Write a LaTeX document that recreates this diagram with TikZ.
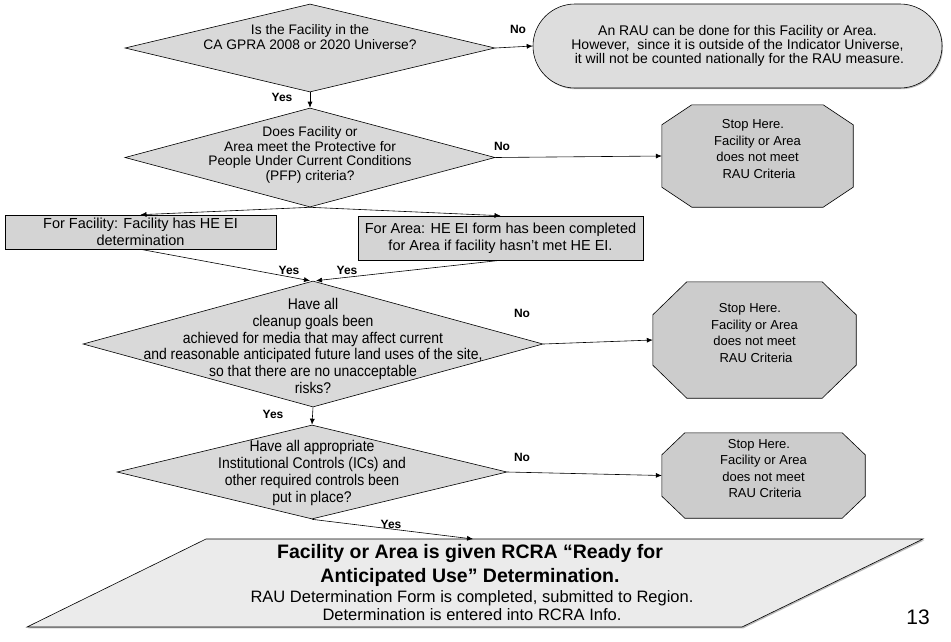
\documentclass[tikz,border=0pt]{standalone}
\usepackage{fontspec}
\setmainfont{Liberation Sans}
\newfontfamily\narrowfont{Liberation Sans}[FakeStretch=0.9]
\usetikzlibrary{shapes.geometric,shapes.misc,arrows.meta,shadows}
\definecolor{diafill}{HTML}{D9D9D9}
\definecolor{octfill}{HTML}{CCCCCC}
\definecolor{stadfill}{HTML}{DDDDDD}
\definecolor{rectfill}{HTML}{D4D4D4}
\definecolor{parfill}{HTML}{EBEBEB}
\definecolor{shadowgray}{HTML}{8C8C8C}
\newcommand{\octpath}[3]{% node name, x cut, y cut
  \filldraw[base, fill=octfill]
    ([xshift=#2pt]#1.north west) -- ([xshift=-#2pt]#1.north east)
    -- ([yshift=-#3pt]#1.north east) -- ([yshift=#3pt]#1.south east)
    -- ([xshift=-#2pt]#1.south east) -- ([xshift=#2pt]#1.south west)
    -- ([yshift=#3pt]#1.south west) -- ([yshift=-#3pt]#1.north west) -- cycle;}
\begin{document}
\begin{tikzpicture}[x=1pt,y=-1pt,
  base/.style={draw=black, line width=0.6pt},
  dia/.style={base, diamond, fill=diafill, inner sep=0pt},
  octbox/.style={rectangle, draw=none, inner sep=0pt},
  stad/.style={base, rounded rectangle, fill=stadfill, inner sep=0pt, align=center,
    font=\fontsize{14}{14}\selectfont,
    drop shadow={shadow xshift=1pt, shadow yshift=-1.2pt, fill=shadowgray, opacity=0.6}},
  boxnode/.style={base, rectangle, fill=rectfill, inner sep=0pt, align=center,
    font=\fontsize{14.5}{17}\selectfont},
  txt/.style={align=center, inner sep=0pt},
  qfont/.style={font=\fontsize{13.8}{14.8}\selectfont},
  nfont/.style={font=\narrowfont\fontsize{15.5}{16.9}\selectfont},
  ofont/.style={font=\fontsize{13}{16.6}\selectfont},
  lbl/.style={inner sep=0pt, font=\bfseries\fontsize{12}{12}\selectfont},
  conn/.style={-{Latex[length=6pt,width=5pt]}, line width=0.6pt},
  plain/.style={line width=0.6pt}
]
\fill[white] (0,0) rectangle (951,641);
\useasboundingbox (0,0) rectangle (951,641);

% Decision 1
\node[dia, minimum width=370, minimum height=88] (d1) at (310,48) {};
\node[txt, qfont] (t1) at (310,37) {Is the Facility in the\\CA GPRA 2008 or 2020 Universe?};

% Stadium
\node[stad, minimum width=409, minimum height=84] (s1) at (737.5,46)
  {An RAU can be done for this Facility or Area.\\However,\ \ since it is outside of the Indicator Universe,\\\ it will not be counted nationally for the RAU measure.};

% Decision 2
\node[dia, minimum width=370, minimum height=99] (d2) at (310,157.5) {};
\node[txt, qfont] (t2) at (310,155) {Does Facility or\\Area meet the Protective for\\People Under Current Conditions\\(PFP) criteria?};

% Octagon 1
\node[octbox, minimum width=191, minimum height=102] (o1) at (757.5,156) {};
\octpath{o1}{30}{20}
\node[txt, ofont] (to1) at (757.5,149) {Stop Here.\hspace*{9pt}\\Facility or Area\\does not meet\\\hspace*{3pt}RAU Criteria};

% Boxes
\node[boxnode, minimum width=271, minimum height=34] (r1) at (140.5,232)
  {For Facility: Facility has HE EI\\determination};
\node[boxnode, minimum width=285, minimum height=44] (r2) at (500.5,238)
  {For Area: HE EI form has been completed\\for Area if facility hasn’t met HE EI.};

% Decision 3
\node[dia, minimum width=460, minimum height=126] (d3) at (313,344) {};
\node[txt, nfont] (t3) at (313,346) {Have all\\cleanup goals been\\achieved for media that may affect current\\and reasonable anticipated future land uses of the site,\\so that there are no unacceptable\\risks?};

% Octagon 2
\node[octbox, minimum width=203, minimum height=116] (o2) at (754.5,340) {};
\octpath{o2}{34}{33}
\node[txt, ofont] (to2) at (754.5,333) {Stop Here.\hspace*{9pt}\\Facility or Area\\does not meet\\\hspace*{3pt}RAU Criteria};

% Decision 4
\node[dia, minimum width=390, minimum height=94] (d4) at (312,472) {};
\node[txt, nfont] (t4) at (312,473) {Have all appropriate\\Institutional Controls (ICs) and\\other required controls been\\put in place?};

% Octagon 3
\node[octbox, minimum width=203, minimum height=85] (o3) at (763.5,475.5) {};
\octpath{o3}{23}{22}
\node[txt, ofont] (to3) at (763.5,468.5) {Stop Here.\hspace*{9pt}\\Facility or Area\\does not meet\\\hspace*{3pt}RAU Criteria};

% Final parallelogram
\fill[shadowgray, opacity=0.6] (207.2,540.4) -- (924.2,540.4) -- (743.2,628.4) -- (28.2,628.4) -- cycle;
\filldraw[base, fill=parfill] (206,539) -- (923,539) -- (742,627) -- (27,627) -- cycle;
\coordinate (ptop) at (473,539);
\node[txt, font=\bfseries\fontsize{19.5}{24}\selectfont] (pb) at (470,565)
  {Facility or Area is given RCRA “Ready for\\Anticipated Use” Determination.};
\node[txt, font=\fontsize{16.5}{18}\selectfont] (pn) at (472,606)
  {RAU Determination Form is completed, submitted to Region.\\Determination is entered into RCRA Info.};

% Page number
\node[inner sep=0pt, font=\fontsize{21}{21}\selectfont] (pg) at (918,617) {13};

% Connectors
\draw[conn] (d1.east) -- (s1.west);
\draw[conn] (d1.south) -- (d2.north);
\draw[conn] (d2.east) -- (o1.west);
\draw[conn] (d2.south) -- (r1.north);
\draw[conn] (d2.south) -- (r2.north);
\draw[conn] (r1.south) -- ([xshift=-3pt]d3.north);
\draw[conn] (r2.south) -- ([xshift=3pt]d3.north);
\draw[conn] (d3.east) -- (o2.west);
\draw[conn] (d3.south) -- (d4.north);
\draw[conn] (d4.east) -- (o3.west);
\draw[conn] (d4.south) -- (ptop);

% Labels
\node[lbl] (no1) at (518,29) {No};
\node[lbl] (yes1) at (282,97) {Yes};
\node[lbl] (no2) at (502,146) {No};
\node[lbl] (yes2) at (289,270) {Yes};
\node[lbl] (yes3) at (347,270) {Yes};
\node[lbl] (no3) at (522,313) {No};
\node[lbl] (yes4) at (273,414) {Yes};
\node[lbl] (no4) at (522,457) {No};
\node[lbl] (yes5) at (391,524) {Yes};
\end{tikzpicture}
\end{document}
